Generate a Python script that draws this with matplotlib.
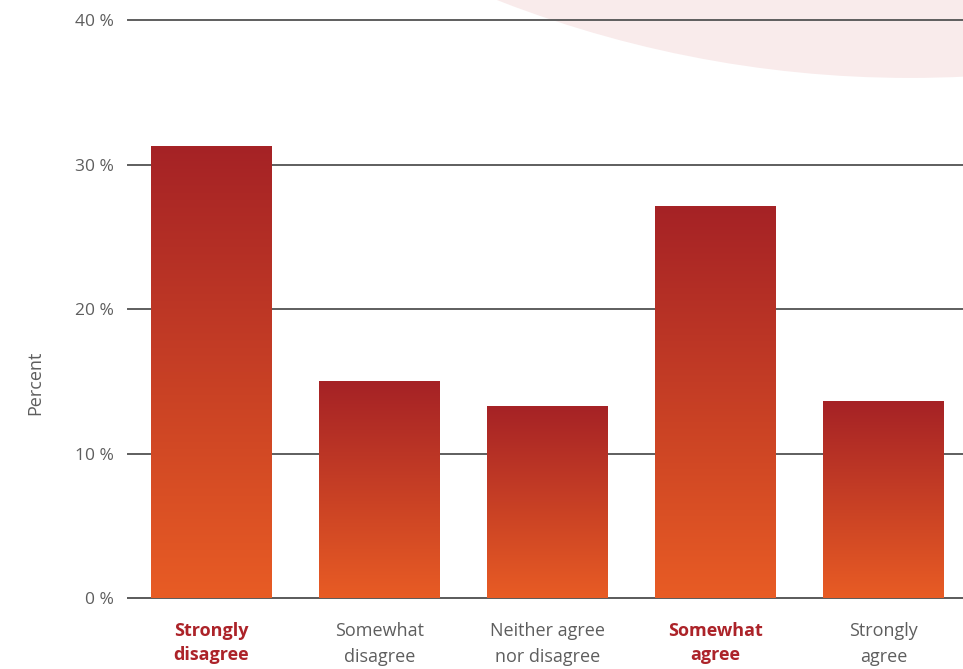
import matplotlib
matplotlib.use("Agg")
import matplotlib.pyplot as plt
import numpy as np
from matplotlib.colors import LinearSegmentedColormap
from matplotlib.patches import Ellipse

# survey answers (percent of respondents)
categories = ["Strongly\ndisagree", "Somewhat\ndisagree", "Neither agree\nnor disagree",
              "Somewhat\nagree", "Strongly\nagree"]
percent = [31.3, 15.0, 13.3, 27.1, 13.6]
highlight = [True, False, False, True, False]
yticks = [0, 10, 20, 30, 40]
ytick_labels = ["0 %", "10 %", "20 %", "30 %", "40 %"]

plt.rcParams['font.family'] = ['Open Sans', 'DejaVu Sans']

dark_red = '#a52226'
orange = '#e85c24'
grey_text = '#5e5e5e'
grid_grey = '#5e5e5e'

fig = plt.figure(figsize=(9.63, 6.69), dpi=100)

# soft pink disc in the upper right corner
disc = Ellipse((0.945, 2.58), 2.357, 3.393, transform=fig.transFigure,
               facecolor='#f9ebeb', edgecolor='none', zorder=-5)
fig.patches.append(disc)

ax = fig.add_axes([0.1324, 0.1061, 0.8723, 0.864])
ax.patch.set_alpha(0)

x = np.arange(len(categories))
bars = ax.bar(x, percent, width=0.72, facecolor='none', edgecolor='none', zorder=3)

# vertical gradient: dark red at the top, orange at the base
cmap = LinearSegmentedColormap.from_list('redorange', [orange, dark_red])
grad = np.linspace(0, 1, 256).reshape(-1, 1)
for b in bars:
    x0, y0 = b.get_x(), b.get_y()
    w, h = b.get_width(), b.get_height()
    im = ax.imshow(grad, cmap=cmap, origin='lower', aspect='auto',
                   extent=[x0, x0 + w, y0, y0 + h], zorder=3, interpolation='bilinear')
    im.set_clip_path(b)

ax.set_xlim(-0.5, len(categories) - 0.5)
ax.set_ylim(0, 40)

ax.set_yticks(yticks)
ax.set_yticklabels(ytick_labels)
ax.yaxis.grid(True, color=grid_grey, linewidth=1.4, zorder=1)
for gl in ax.get_ygridlines():
    gl.set_clip_on(False)
ax.set_axisbelow(True)
for s in ['top', 'right', 'left']:
    ax.spines[s].set_visible(False)
ax.spines['bottom'].set_color(grid_grey)
ax.spines['bottom'].set_linewidth(1.4)
ax.spines['bottom'].set_zorder(1)

ax.tick_params(axis='y', length=0, pad=10, labelsize=12.5, labelcolor=grey_text)
ax.tick_params(axis='x', length=0, pad=17, labelsize=13)
ax.set_xticks(x)
ax.set_xticklabels(categories)
for lbl, hi in zip(ax.get_xticklabels(), highlight):
    if hi:
        lbl.set_color('#ac2329')
        lbl.set_fontweight('bold')
        lbl.set_linespacing(1.47)
    else:
        lbl.set_color(grey_text)
        lbl.set_linespacing(1.62)

ax.set_ylabel("Percent", fontsize=13, color=grey_text)
ax.yaxis.set_label_coords(-0.099, 0.372)

fig.savefig("out.png", dpi=100)
